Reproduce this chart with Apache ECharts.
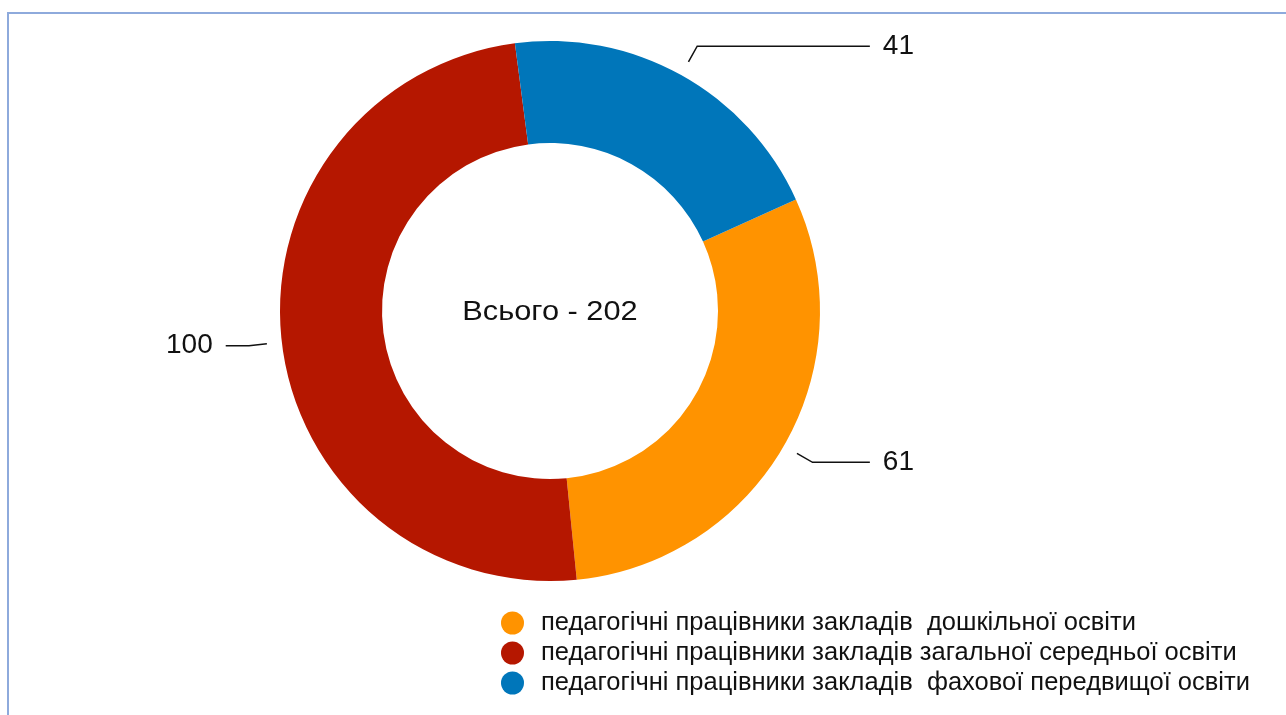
<!DOCTYPE html>
<html>
<head>
<meta charset="utf-8">
<script src="https://cdn.jsdelivr.net/npm/echarts@6/dist/echarts.min.js"></script>
<style>
  html, body { margin: 0; padding: 0; background: #fff; }
  #frame { position: absolute; left: 7px; top: 12px; width: 1279px; height: 703px;
           border-top: 2px solid #8eaadc; border-left: 2px solid #8eaadc; box-sizing: border-box; }
  #myChart { position: absolute; left: 0; top: 0; width: 1286px; height: 715px; }
</style>
</head>
<body>
<div id="frame"></div>
<div id="myChart"></div>
<script>
// дані
const categories = [
  'педагогічні працівники закладів  дошкільної освіти',
  'педагогічні працівники закладів загальної середньої освіти',
  'педагогічні працівники закладів  фахової передвищої освіти'
];
const values = [61, 100, 41];
const colors = ['#ff9300', '#b51700', '#0076ba'];
const totalLabel = 'Всього - ' + values.reduce((a, b) => a + b, 0);

const font = '"Liberation Sans", Arial, Helvetica, sans-serif';

let pieData = categories.map((name, i) => ({
  name: name,
  value: values[i],
  itemStyle: { color: colors[i] }
}));

let chart = echarts.init(document.getElementById('myChart'));
let options = {
  animation: false,
  legend: {
    orient: 'vertical',
    left: 496,
    top: 605,
    itemWidth: 23,
    itemHeight: 23,
    itemGap: 4,
    icon: 'circle',
    data: categories,
    textStyle: { fontFamily: font, fontSize: 25.5, color: '#111', padding: [0, 0, 0, 12] }
  },
  graphic: [{
    type: 'text',
    x: 550,
    y: 313,
    scaleX: 1.14,
    style: {
      text: totalLabel,
      align: 'center',
      verticalAlign: 'middle',
      font: '27px ' + font,
      fill: '#111'
    }
  }],
  series: [
    {
      name: 'donut',
      type: 'pie',
      radius: [168, 270],
      center: [550, 311],
      startAngle: 24.4,
      clockwise: true,
      silent: true,
      label: { show: false },
      labelLine: { show: false },
      data: pieData
    },
    {
      // невидимий шар для підписів з відступом від кільця
      name: 'labels',
      type: 'pie',
      left: 166,
      right: 372,
      top: 0,
      bottom: 0,
      radius: [0, 285],
      center: [384, 311],
      startAngle: 24.4,
      clockwise: true,
      silent: true,
      itemStyle: { color: 'rgba(0,0,0,0)' },
      label: {
        show: true,
        formatter: '{c}',
        fontFamily: font,
        fontSize: 28,
        color: '#111',
        alignTo: 'edge',
        edgeDistance: 0,
        distanceToLabelLine: 13
      },
      labelLine: {
        show: true,
        length: 18,
        length2: 20,
        lineStyle: { color: '#111', width: 1.5 }
      },
      data: categories.map((name, i) => ({ name: name, value: values[i] }))
    }
  ]
};
chart.setOption(options);
</script>
</body>
</html>
